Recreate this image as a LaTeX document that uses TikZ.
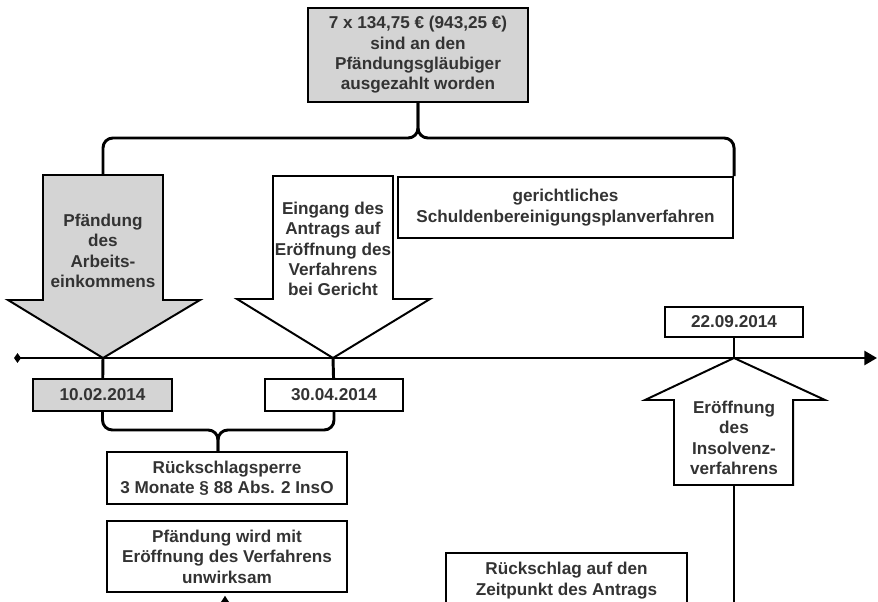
\documentclass[tikz,border=0pt]{standalone}
\usepackage{fontspec}
\setmainfont{Liberation Sans}
\usetikzlibrary{arrows.meta}

\definecolor{fillgray}{HTML}{D4D4D4}
\definecolor{txtgray}{HTML}{333333}

\tikzset{
  lbl/.style={align=center, text=txtgray, inner sep=0pt, font=\fontsize{12.2}{14.5}\selectfont\bfseries},
  box/.style={lbl, draw=black, line width=1.4pt},
  brace/.style={line width=2.1pt, rounded corners=7pt},
  bigarrow/.style={draw=black, line width=1.4pt, line join=miter}
}

\begin{document}
\begin{tikzpicture}[x=0.025cm, y=-0.025cm]

\useasboundingbox (0,0) rectangle (878,602);
\clip (0,0) rectangle (878,602);

\coordinate (pfatop) at (103,175);
\coordinate (pfatip) at (103,358);
\coordinate (eingtip) at (333,358);
\coordinate (erotip) at (734,358);
\coordinate (erofoot) at (734,485);
\coordinate (eroend) at (734,620);
\coordinate (pfeilfuss) at (225,620);
\coordinate (tstart) at (14,358);
\coordinate (tend) at (877,358);
\coordinate (obmitte) at (418,138);
\coordinate (ubmitte) at (218,430);

\draw[bigarrow, fill=fillgray] (43,175) -- (163,175) -- (163,300) -- (200,300) -- (pfatip) -- (8,300) -- (43,300) -- cycle;
\draw[bigarrow, fill=white] (273,176) -- (393,176) -- (393,299) -- (430,299) -- (eingtip) -- (237,299) -- (273,299) -- cycle;
\draw[bigarrow, fill=white] (erotip) -- (825,400) -- (793,400) -- (793,485) -- (674,485) -- (674,400) -- (645,400) -- cycle;

\node[box, fill=fillgray, minimum width=5.5cm, minimum height=2.35cm] (zahlung) at (418,55) {7 x 134,75 € (943,25 €)\\sind an den\\Pfändungsgläubiger\\ausgezahlt worden};

\node[box, minimum width=8.375cm, minimum height=1.525cm] (planverf) at (565.5,207.5) {gerichtliches\\Schuldenbereinigungsplanverfahren};

\node[lbl] (pfaendung) at (103,251) {Pfändung\\des\\Arbeits-\\einkommens};
\node[lbl] (eingang) at (333,249) {Eingang des\\Antrags auf\\Eröffnung des\\Verfahrens\\bei Gericht};
\node[lbl] (eroeffnung) at (734,438) {Eröffnung\\des\\Insolvenz-\\verfahrens};

\node[box, fill=fillgray, minimum width=3.475cm, minimum height=0.8cm] (datum1) at (102.5,395) {10.02.2014};
\node[box, minimum width=3.45cm, minimum height=0.8cm] (datum2) at (334,395) {30.04.2014};
\node[box, minimum width=3.45cm, minimum height=0.75cm] (datum3) at (734,322) {22.09.2014};

\node[box, minimum width=6cm, minimum height=1.3cm] (sperre) at (227,478) {Rückschlagsperre\\3 Monate § 88 Abs. 2 InsO};
\node[box, minimum width=6cm, minimum height=1.775cm] (unwirksam) at (227,556.5) {Pfändung wird mit\\Eröffnung des Verfahrens\\unwirksam};
\node[box, minimum width=6.025cm, minimum height=1.375cm] (rueckschlag) at (566.5,580.5) {Rückschlag auf den\\Zeitpunkt des Antrags};

\draw[line width=1.8pt, {Diamond[length=5pt,width=7pt]}-{Triangle[length=9pt,width=10pt]}] (tstart) -- (tend);

\draw[line width=2.1pt] (pfatip) -- (datum1);
\draw[line width=2.1pt] (eingtip) -- (datum2);
\draw[line width=1.4pt] (erotip) -- (datum3);
\draw[line width=2.1pt] (erofoot) -- (eroend);
\draw[line width=1.8pt, -{Stealth[length=7pt,width=9pt]}] (pfeilfuss) -- ([yshift=-2pt]pfeilfuss |- unwirksam.south);

\draw[brace] (pfatop) |- (obmitte) -- (zahlung.south);
\draw[brace] (planverf.north east) |- (obmitte) -- (zahlung.south);
\draw[brace] (datum1.south) |- (ubmitte) -- (ubmitte |- sperre.north);
\draw[brace] (datum2.south) |- (ubmitte) -- (ubmitte |- sperre.north);

\end{tikzpicture}
\end{document}
